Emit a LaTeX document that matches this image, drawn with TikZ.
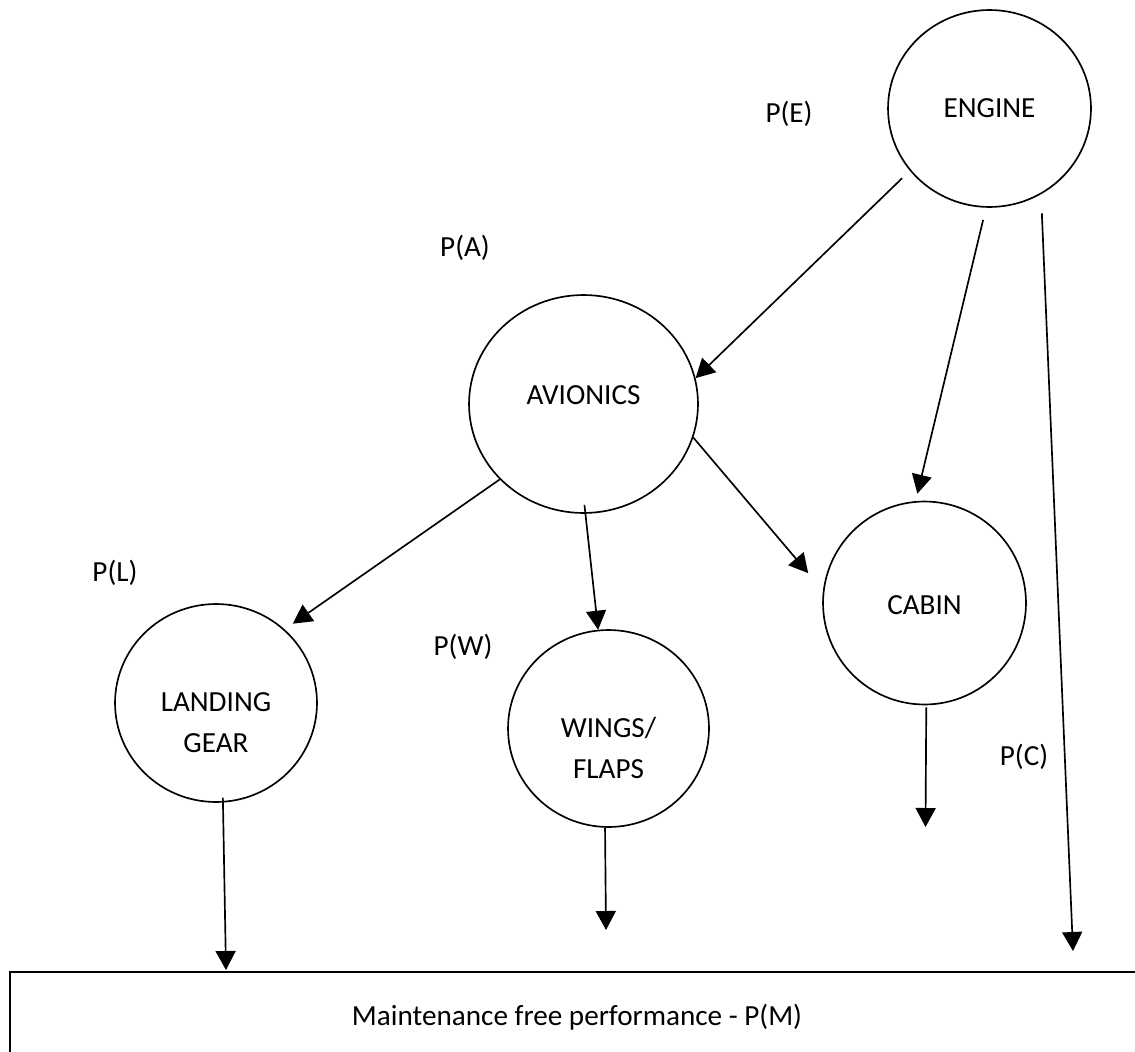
\documentclass[tikz,border=0pt]{standalone}
\usepackage{fontspec}
\setmainfont{Carlito}
\usetikzlibrary{arrows.meta,shapes.geometric}
\begin{document}
\begin{tikzpicture}[x=0.02cm,y=-0.02cm,
  part/.style={draw, ellipse, inner sep=0pt, line width=0.95pt},
  tag/.style={font=\fontsize{16.6}{23.3}\selectfont, inner sep=0pt, align=center},
  link/.style={line width=0.95pt, -{Triangle[length=0.38cm,width=0.4cm]}},
]
% page frame
\clip (0,0) rectangle (1135,1051);
\fill[white] (0,0) rectangle (1135,1051);

% subsystems
\node[part, minimum width=4.06cm, minimum height=3.94cm] (eng) at (989.5,108.5) {};
\node[part, minimum width=4.58cm, minimum height=4.36cm] (av)  at (583.5,404) {};
\node[part, minimum width=4.04cm, minimum height=3.96cm] (lg)  at (216,703) {};
\node[part, minimum width=4.02cm, minimum height=3.94cm] (wf)  at (608.5,728.5) {};
\node[part, minimum width=4.06cm, minimum height=4.06cm] (cab) at (924.5,603) {};

\node[tag] (engT) at (989.5,108) {ENGINE};
\node[tag] (avT)  at (583.5,395) {AVIONICS};
\node[tag] (lgT)  at (216,722.5) {LANDING\\GEAR};
\node[tag] (wfT)  at (608.5,748) {WINGS/\\FLAPS};
\node[tag] (cabT) at (924.5,605) {CABIN};

% probabilities
\node[tag] (pE) at (789,114) {P(E)};
\node[tag] (pA) at (465,248) {P(A)};
\node[tag] (pL) at (115,573) {P(L)};
\node[tag] (pW) at (463,647) {P(W)};
\node[tag] (pC) at (1024,757) {P(C)};

% overall outcome box (open to the right and below)
\draw[line width=0.95pt] (10,1100) -- (10,972) -- (1200,972);
\node[tag] (pM) at (577,1017) {Maintenance free performance - P(M)};

% free arrow ends
\coordinate (eTip) at (1073,951);
\coordinate (lTip) at (226,970);
\coordinate (wTip) at (606,930);
\coordinate (cTip) at (925.5,827);

% dependencies
\draw[link, shorten <=0.214cm] (eng.218) -- (av.13);
\draw[link, shorten <=0.25cm, shorten >=0.152cm] (eng.268) -- (cab.95);
\draw[link, shorten <=0.38cm] (eng.301.5) -- (eTip);
\draw[link, shorten >=0.198cm] (av.222) -- (lg.47);
\draw[link, shorten <=-0.18cm] (av.271) -- (wf.96);
\draw[link, shorten >=0.456cm] (av.343) -- (cab.173);
\draw[link, shorten <=-0.1cm] (lg.274) -- (lTip);
\draw[link] (wf.268.5) -- (wTip);
\draw[link, shorten <=0.04cm] (cab.271.7) -- (cTip);
\end{tikzpicture}
\end{document}
